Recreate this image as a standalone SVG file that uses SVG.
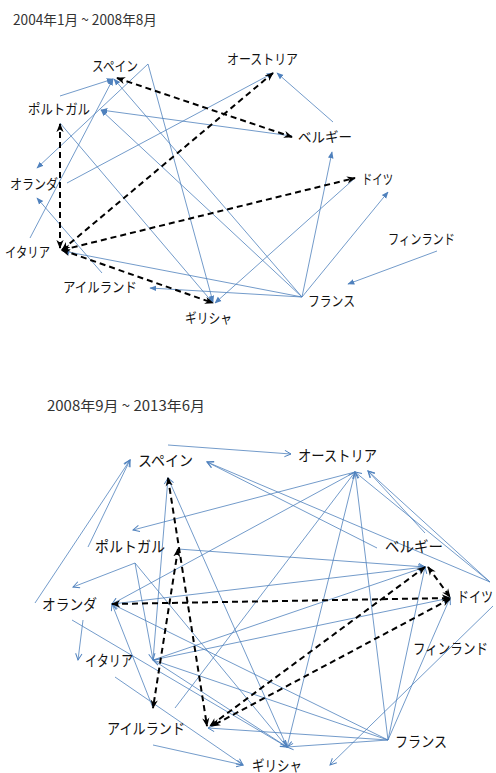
<svg xmlns="http://www.w3.org/2000/svg" width="496" height="773" viewBox="0 0 496 773">
<style>
.bg{fill:#fff}
.t{font-family:"Noto Sans CJK JP","Liberation Sans",sans-serif;fill:#333;font-size:14px}
.l1{font-family:"Noto Sans CJK JP","Liberation Sans",sans-serif;fill:#111;font-size:14px}
.l2{font-family:"Noto Sans CJK JP","Liberation Sans",sans-serif;fill:#111;font-size:15px}
.b1{stroke:#4F81BD;stroke-width:0.8;fill:none;marker-end:url(#ab)}
.b2{stroke:#4F81BD;stroke-width:0.8;fill:none;marker-end:url(#abo)}
.d{stroke:#000;stroke-width:2;fill:none;stroke-dasharray:6 4;marker-end:url(#ak);marker-start:url(#ak)}
</style>
<defs>
<marker id="ab" viewBox="0 0 10 10" refX="9" refY="5" markerWidth="7" markerHeight="7" markerUnits="userSpaceOnUse" orient="auto"><path d="M0,1 L10,5 L0,9 z" fill="#4F81BD"/></marker>
<marker id="abo" viewBox="0 0 10 10" refX="9" refY="5" markerWidth="8" markerHeight="8" markerUnits="userSpaceOnUse" orient="auto"><path d="M1,1 L9,5 L1,9" fill="none" stroke="#4F81BD" stroke-width="1.2"/></marker>
<marker id="ak" viewBox="0 0 10 10" refX="9" refY="5" markerWidth="9" markerHeight="9" markerUnits="userSpaceOnUse" orient="auto-start-reverse"><path d="M0,1 L10,5 L0,9 L3,5 z" fill="#000"/></marker>
</defs>
<rect class="bg" x="0" y="0" width="496" height="773"/>

<g id="title1"><text class="t" x="13" y="24.5" textLength="144" lengthAdjust="spacingAndGlyphs">2004年1月 ~ 2008年8月</text></g>
<g id="title2"><text class="t" x="47" y="411" textLength="158" lengthAdjust="spacingAndGlyphs">2008年9月 ~ 2013年6月</text></g>

<g id="connectors1">
<line class="b1" x1="60" y1="96" x2="113" y2="79"/>
<line class="b1" x1="148" y1="64" x2="37" y2="168"/>
<line class="b1" x1="148" y1="64" x2="213" y2="302"/>
<line class="b1" x1="292" y1="136" x2="101" y2="110"/>
<line class="b1" x1="67" y1="183" x2="273" y2="73"/>
<line class="b1" x1="333" y1="122" x2="277" y2="73"/>
<line class="b1" x1="30" y1="238" x2="113" y2="79"/>
<line class="b1" x1="102" y1="273" x2="37" y2="198"/>
<line class="b1" x1="302" y1="297" x2="332" y2="152"/>
<line class="b1" x1="302" y1="297" x2="388" y2="192"/>
<line class="b1" x1="302" y1="297" x2="114" y2="79"/>
<line class="b1" x1="302" y1="297" x2="101" y2="110"/>
<line class="b1" x1="302" y1="297" x2="63" y2="251"/>
<line class="b1" x1="302" y1="297" x2="150" y2="288"/>
<line class="b1" x1="355" y1="178" x2="215" y2="303"/>
<line class="b1" x1="437" y1="251" x2="348" y2="284"/>
<line class="b1" x1="60" y1="123" x2="213" y2="303"/>
<line class="d" x1="117" y1="78" x2="292" y2="137"/>
<line class="d" x1="62" y1="250" x2="273" y2="73"/>
<line class="d" x1="62" y1="250" x2="355" y2="178"/>
<line class="d" x1="60" y1="248" x2="60" y2="124"/>
<line class="d" x1="62" y1="250" x2="213" y2="303"/>
</g>

<g id="connectors2">
<line class="b2" x1="168" y1="445" x2="291" y2="454"/>
<line class="b2" x1="35" y1="603" x2="130" y2="460"/>
<line class="b2" x1="88" y1="547" x2="130" y2="460"/>
<line class="b2" x1="377" y1="548" x2="207" y2="462"/>
<line class="b2" x1="490" y1="582" x2="207" y2="462"/>
<line class="b2" x1="355" y1="472" x2="133" y2="530"/>
<line class="b2" x1="355" y1="472" x2="112" y2="604"/>
<line class="b2" x1="490" y1="582" x2="368" y2="471"/>
<line class="b2" x1="425" y1="533" x2="368" y2="471"/>
<line class="b2" x1="490" y1="582" x2="355" y2="472"/>
<line class="b2" x1="175" y1="708" x2="355" y2="472"/>
<line class="b2" x1="388" y1="740" x2="355" y2="472"/>
<line class="b2" x1="355" y1="472" x2="287" y2="747"/>
<line class="b2" x1="135" y1="563" x2="73" y2="587"/>
<line class="b2" x1="135" y1="563" x2="153" y2="660"/>
<line class="b2" x1="135" y1="563" x2="287" y2="747"/>
<line class="b2" x1="83" y1="620" x2="78" y2="660"/>
<line class="b2" x1="72" y1="620" x2="287" y2="747"/>
<line class="b2" x1="115" y1="677" x2="243" y2="765"/>
<line class="b2" x1="153" y1="745" x2="243" y2="765"/>
<line class="b2" x1="153" y1="660" x2="168" y2="478"/>
<line class="b2" x1="287" y1="747" x2="168" y2="478"/>
<line class="b2" x1="153" y1="660" x2="450" y2="598"/>
<line class="b2" x1="153" y1="660" x2="425" y2="567"/>
<line class="b2" x1="388" y1="740" x2="153" y2="660"/>
<line class="b2" x1="153" y1="660" x2="287" y2="747"/>
<line class="b2" x1="153" y1="708" x2="112" y2="604"/>
<line class="b2" x1="388" y1="740" x2="112" y2="604"/>
<line class="b2" x1="388" y1="740" x2="425" y2="567"/>
<line class="b2" x1="388" y1="740" x2="450" y2="598"/>
<line class="b2" x1="388" y1="740" x2="208" y2="728"/>
<line class="b2" x1="388" y1="740" x2="287" y2="747"/>
<line class="b2" x1="493" y1="606" x2="330" y2="765"/>
<line class="b2" x1="178" y1="549" x2="425" y2="567"/>
<line class="b2" x1="112" y1="604" x2="425" y2="567"/>
<line class="d" x1="168" y1="478" x2="207" y2="726"/>
<line class="d" x1="178" y1="549" x2="153" y2="708"/>
<line class="d" x1="112" y1="604" x2="450" y2="598"/>
<line class="d" x1="425" y1="567" x2="210" y2="726"/>
<line class="d" x1="428" y1="567" x2="450" y2="597"/>
<line class="d" x1="450" y1="599" x2="212" y2="726"/>
</g>

<g id="t-spain"><text class="l1" x="92" y="71" textLength="46" lengthAdjust="spacingAndGlyphs">スペイン</text></g>
<g id="t-austria"><text class="l1" x="227" y="64" textLength="71" lengthAdjust="spacingAndGlyphs">オーストリア</text></g>
<g id="t-portugal"><text class="l1" x="28" y="114" textLength="62" lengthAdjust="spacingAndGlyphs">ポルトガル</text></g>
<g id="t-belgium"><text class="l1" x="298" y="142" textLength="54" lengthAdjust="spacingAndGlyphs">ベルギー</text></g>
<g id="t-netherlands"><text class="l1" x="10" y="189" textLength="48" lengthAdjust="spacingAndGlyphs">オランダ</text></g>
<g id="t-germany"><text class="l1" x="362" y="184" textLength="31" lengthAdjust="spacingAndGlyphs">ドイツ</text></g>
<g id="t-finland"><text class="l1" x="388" y="244" textLength="67" lengthAdjust="spacingAndGlyphs">フィンランド</text></g>
<g id="t-italy"><text class="l1" x="5" y="257" textLength="45" lengthAdjust="spacingAndGlyphs">イタリア</text></g>
<g id="t-ireland"><text class="l1" x="63" y="292" textLength="74" lengthAdjust="spacingAndGlyphs">アイルランド</text></g>
<g id="t-greece"><text class="l1" x="185" y="323" textLength="47" lengthAdjust="spacingAndGlyphs">ギリシャ</text></g>
<g id="t-france"><text class="l1" x="308" y="306" textLength="47" lengthAdjust="spacingAndGlyphs">フランス</text></g>

<g id="b-spain"><text class="l2" x="138" y="466" textLength="55" lengthAdjust="spacingAndGlyphs">スペイン</text></g>
<g id="b-austria"><text class="l2" x="298" y="461" textLength="79" lengthAdjust="spacingAndGlyphs">オーストリア</text></g>
<g id="b-portugal"><text class="l2" x="95" y="552" textLength="70" lengthAdjust="spacingAndGlyphs">ポルトガル</text></g>
<g id="b-belgium"><text class="l2" x="385" y="552" textLength="58" lengthAdjust="spacingAndGlyphs">ベルギー</text></g>
<g id="b-germany"><text class="l2" x="457" y="602" textLength="36" lengthAdjust="spacingAndGlyphs">ドイツ</text></g>
<g id="b-netherlands"><text class="l2" x="42" y="610" textLength="55" lengthAdjust="spacingAndGlyphs">オランダ</text></g>
<g id="b-finland"><text class="l2" x="413" y="654" textLength="75" lengthAdjust="spacingAndGlyphs">フィンランド</text></g>
<g id="b-italy"><text class="l2" x="85" y="666" textLength="48" lengthAdjust="spacingAndGlyphs">イタリア</text></g>
<g id="b-ireland"><text class="l2" x="107" y="734" textLength="78" lengthAdjust="spacingAndGlyphs">アイルランド</text></g>
<g id="b-france"><text class="l2" x="395" y="747" textLength="52" lengthAdjust="spacingAndGlyphs">フランス</text></g>
<g id="b-greece"><text class="l2" x="252" y="771" textLength="50" lengthAdjust="spacingAndGlyphs">ギリシャ</text></g>
</svg>
